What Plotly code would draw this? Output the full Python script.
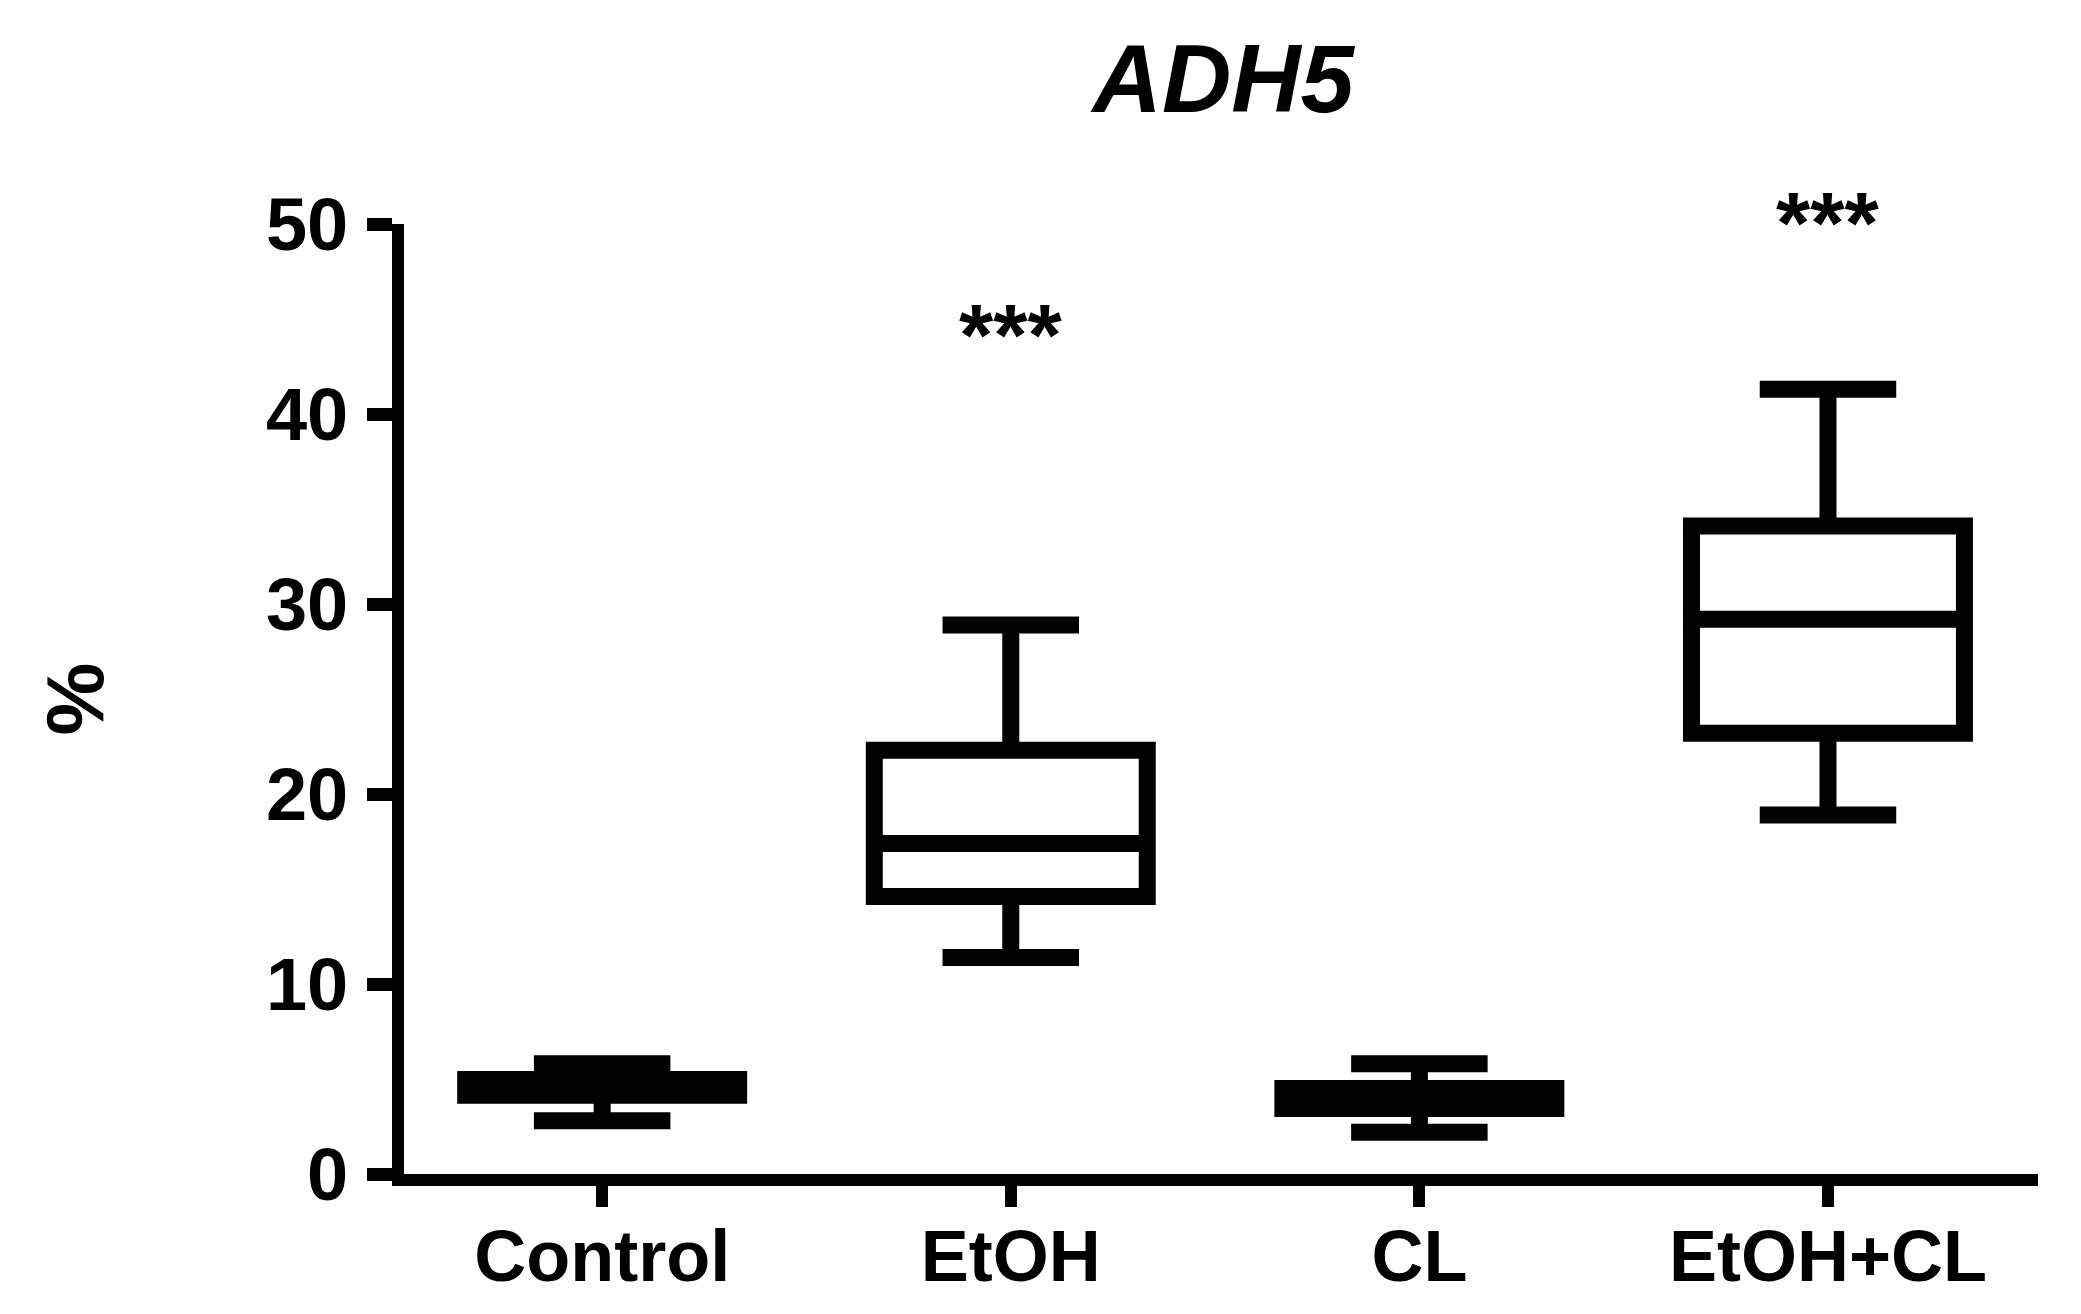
import plotly.graph_objects as go

# box plot summary (%)
groups = ["Control", "EtOH", "CL", "EtOH+CL"]
whisker_min = [2.8, 11.4, 2.2, 18.9]
q1 = [4.15, 14.6, 3.45, 23.2]
median = [4.5, 17.4, 4.0, 29.2]
q3 = [4.98, 22.3, 4.5, 34.1]
whisker_max = [5.8, 28.9, 5.8, 41.3]

# significance marks above boxes
sig_groups = ["EtOH", "EtOH+CL"]
sig_text = ["***", "***"]
sig_y = [44.2, 50.1]

Y_RANGE = [0, 50]

INK = "#000000"
FONT = "Liberation Sans, Arial, sans-serif"

fig = go.Figure(go.Box(
    x=groups, q1=q1, median=median, q3=q3,
    lowerfence=whisker_min, upperfence=whisker_max,
    width=0.668, whiskerwidth=0.5, boxpoints=False,
    fillcolor="#ffffff", line=dict(color=INK, width=17),
    showlegend=False,
))

# the top mark sits above the axis range, so place marks in y-domain units
lo, hi = Y_RANGE
for g, t, y in zip(sig_groups, sig_text, sig_y):
    fig.add_annotation(x=g, y=(y - lo) / (hi - lo), yref="y domain", text=t,
                       showarrow=False, yanchor="middle",
                       font=dict(family=FONT, size=88, color=INK, weight="bold"))

fig.update_layout(
    width=2081, height=1314,
    paper_bgcolor="#ffffff", plot_bgcolor="#ffffff",
    margin=dict(l=396, r=51, t=216, b=148, autoexpand=False),
    font=dict(family=FONT, color=INK),
    title=dict(text="ADH5", x=0.584, xanchor="center", y=1 - 70 / 1314,
               yanchor="middle",
               font=dict(family=FONT, size=96, color=INK,
                         weight="bold", style="italic")),
)
fig.update_xaxes(
    type="category", range=[-0.485, 3.514], showgrid=False, zeroline=False,
    showline=True, linecolor=INK, linewidth=12,
    ticks="outside", ticklen=21, tickwidth=12, tickcolor=INK,
    ticklabelstandoff=-12,
    tickfont=dict(family=FONT, size=72, color=INK, weight="bold"),
)
fig.update_yaxes(
    range=Y_RANGE, dtick=10, tick0=0, showgrid=False, zeroline=False,
    showline=True, linecolor=INK, linewidth=12,
    ticks="outside", ticklen=25, tickwidth=13, tickcolor=INK,
    ticklabelstandoff=4,
    tickfont=dict(family=FONT, size=74, color=INK, weight="bold"),
    title=dict(text="%", standoff=140,
               font=dict(family=FONT, size=82, color=INK, weight="bold")),
)

fig.write_html("out.html")
